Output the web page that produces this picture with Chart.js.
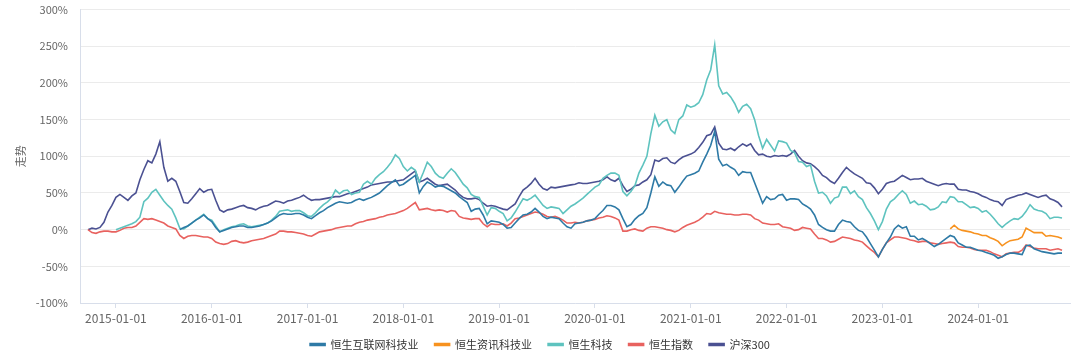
<!DOCTYPE html>
<html lang="zh-CN">
<head>
    <meta charset="UTF-8">
    <title>走势</title>
    <script src="https://cdn.jsdelivr.net/npm/chart.js"></script>
    <style>
        body {
            margin: 0;
            background: #ffffff;
        }

        #chart-container {
            width: 1080px;
            height: 360px;
        }
    </style>
</head>
<body>
    <div id="chart-container">
        <canvas id="trendChart"></canvas>
    </div>

    <script>
        // semi-monthly dates, 2014-08-16 .. 2024-12-16
        const dates = [];
        for (let y = 2014; y <= 2024; y++) {
            for (let m = 1; m <= 12; m++) {
                for (const d of ["01", "16"]) {
                    const label = y + "-" + String(m).padStart(2, "0") + "-" + d;
                    if (label >= "2014-08-16" && label <= "2024-12-16") dates.push(label);
                }
            }
        }

        const yTicks = [-100, -50, 0, 50, 100, 150, 200, 250, 300];

        // 恒生互联网科技业, from 2015-09-01
        const hsInternetStart = "2015-09-01";
        const hsInternet = [
            0, 3, 5, 9, 13, 16,
            20, 15, 11, 3, -3, -1, 1, 3, 4, 5,
            5, 3, 3, 4, 5, 7, 9, 12, 16, 20,
            22, 21, 21, 22, 22, 20, 17, 15, 19, 23,
            26, 30, 33, 36, 38, 37, 36, 37, 40, 42,
            40, 42, 44, 47, 50, 55, 60, 64, 68, 60,
            62, 66, 70, 74, 50, 59, 65, 62, 58, 60,
            59, 56, 53, 50, 45, 41, 37, 25, 28, 29,
            20, 8, 12, 11, 10, 7, 2, 3, 9, 15,
            20, 21, 24, 29, 24, 18, 15, 17, 16, 15,
            9, 4, 2, 8, 9, 10, 12, 13, 15, 21,
            26, 33, 33, 31, 27, 15, 4, 7, 14, 19,
            22, 30, 50, 72, 59, 65, 61, 60, 51, 58,
            66, 73, 75, 77, 80, 92, 103, 115, 134, 96,
            87, 89, 85, 82, 74, 79, 78, 78, 64, 50,
            36, 45, 41, 42, 47, 48, 40, 42, 42, 41,
            35, 32, 28, 20, 7, 3, 0, -2, -2, 7,
            13, 11, 10, 4, -1, -3, -10, -19, -28, -37,
            -27, -18, -10, 1, 6, 2, 4, -9, -9, -14,
            -12, -15, -19, -23, -20, -16, -12, -8, -10, -18,
            -21, -24, -24, -26, -28, -29, -31, -33, -35, -39,
            -37, -34, -32, -32, -33, -34, -22, -21, -26, -28,
            -30, -31, -32, -33, -32, -32
        ];

        // 恒生资讯科技业, from 2023-09-16
        const hsInfoTechStart = "2023-09-16";
        const hsInfoTech = [
            1, 6, 1, -1, -2, -3, -5, -6, -8, -8,
            -11, -13, -16, -22, -18, -15, -14, -13, -10, 2,
            -1, -4, -4, -4, -9, -8, -9, -10, -12
        ];

        // 恒生科技, from 2015-01-01
        const hsTechStart = "2015-01-01";
        const hsTech = [
            0, 2, 4, 6, 8, 11, 17, 38, 43, 51, 55, 47,
            39, 33, 28, 16, 2, 1, 5, 9, 13, 17,
            21, 15, 13, 5, -3, 0, 2, 4, 5, 7,
            8, 5, 4, 5, 6, 7, 9, 13, 18, 25,
            26, 27, 25, 26, 26, 23, 19, 18, 23, 29,
            34, 38, 43, 54, 49, 53, 54, 48, 50, 51,
            62, 66, 62, 70, 75, 79, 85, 92, 102, 97,
            86, 80, 85, 81, 65, 78, 92, 86, 77, 72,
            70, 77, 83, 78, 70, 62, 57, 48, 45, 44,
            32, 20, 30, 29, 25, 22, 12, 16, 24, 33,
            42, 40, 43, 47, 40, 33, 29, 31, 30, 29,
            22, 27, 32, 35, 39, 43, 48, 53, 58, 61,
            70, 74, 77, 77, 74, 52, 46, 52, 60, 77,
            88, 100, 131, 156, 141, 147, 150, 136, 131, 150,
            155, 170, 167, 169, 173, 184, 204, 218, 252, 196,
            185, 187, 181, 172, 160, 168, 171, 165, 150, 128,
            111, 123, 115, 107, 121, 120, 118, 108, 105, 93,
            92, 86, 88, 66, 50, 51, 46, 36, 43, 45,
            58, 58, 49, 53, 45, 41, 30, 22, 12, 0,
            11, 28, 38, 42, 48, 53, 48, 36, 39, 34,
            35, 32, 27, 28, 31, 38, 37, 45, 44, 38,
            38, 34, 30, 31, 29, 24, 26, 21, 15, 8,
            3, 8, 12, 15, 14, 18, 25, 34, 28, 26,
            25, 22, 15, 17, 17, 16
        ];

        // 恒生指数, from 2014-09-16
        const hsiStart = "2014-09-16";
        const hsi = [
            0, -4, -5, -3, -2, -2, -3, -3, -1,
            2, 3, 3, 5, 10, 15, 14, 15, 13, 11,
            9, 5, 3, 1, -8, -12, -9, -8, -8, -9,
            -10, -10, -12, -17, -19, -20, -19, -16, -15, -17,
            -18, -17, -15, -14, -13, -12, -10, -8, -6, -2,
            -2, -3, -3, -4, -5, -6, -8, -9, -6, -3,
            -2, -1, 0, 2, 3, 4, 5, 5, 8, 10,
            11, 13, 14, 15, 17, 18, 20, 21, 22, 24,
            26, 29, 33, 37, 27, 28, 29, 27, 26, 27,
            26, 24, 26, 25, 18, 16, 15, 14, 15, 15,
            8, 4, 8, 7, 7, 8, 5, 9, 15, 16,
            18, 20, 22, 24, 23, 21, 18, 17, 18, 16,
            13, 9, 9, 10, 9, 10, 12, 13, 14, 16,
            17, 19, 18, 16, 13, -2, -2, 0, 1, -1,
            -2, 2, 4, 4, 3, 2, 0, -1, -3, -1,
            3, 6, 8, 10, 13, 17, 22, 21, 25, 23,
            22, 21, 21, 20, 20, 21, 21, 20, 15, 13,
            9, 8, 7, 7, 8, 4, 3, 2, -1, 0,
            3, 2, 1, -6, -12, -12, -14, -17, -16, -13,
            -10, -11, -12, -14, -15, -17, -22, -27, -31, -37,
            -27, -18, -14, -10, -10, -11, -12, -14, -15, -17,
            -16, -16, -18, -19, -20, -19, -18, -17, -18, -23,
            -24, -24, -25, -27, -28, -28, -28, -30, -33, -35,
            -37, -33, -32, -31, -31, -28, -21, -23, -25, -26,
            -26, -26, -28, -27, -26, -28
        ];

        // 沪深300, from 2014-09-16
        const csi300Start = "2014-09-16";
        const csi300 = [
            0, 2, 1, 3, 10, 24, 33, 44, 48,
            44, 40, 46, 50, 68, 82, 94, 91, 103, 120,
            85, 66, 70, 66, 52, 37, 36, 42, 49, 56,
            51, 54, 55, 40, 27, 24, 27, 28, 30, 32,
            33, 30, 29, 27, 30, 32, 33, 36, 39, 38,
            36, 39, 40, 42, 44, 47, 43, 40, 41, 41,
            42, 43, 44, 45, 45, 47, 49, 50, 52, 54,
            56, 58, 61, 62, 63, 64, 65, 65, 66, 67,
            68, 72, 76, 80, 65, 67, 70, 66, 62, 60,
            61, 62, 58, 54, 48, 44, 42, 42,
            43, 41, 36, 32, 33, 32, 30, 28, 27, 31, 35, 45,
            54, 58, 63, 70, 62, 56, 54, 58, 57, 58,
            59, 60, 61, 62, 64, 63, 63, 64, 65, 66,
            68, 72, 68, 66, 70, 60, 52, 55, 60, 61,
            65, 68, 75, 95, 93, 97, 98, 92, 90, 95,
            99, 101, 103, 106, 112, 119, 128, 130, 140, 118,
            110, 109, 111, 108, 113, 117, 114, 117, 108, 102,
            103, 100, 99, 101, 100, 101, 100, 103, 108, 100,
            94, 91, 90, 86, 81, 74, 71, 66, 63, 70,
            78, 85, 80, 76, 73, 70, 64, 63, 57, 49,
            55, 63, 65, 66, 70, 74, 71, 68, 69, 69,
            70, 66, 64, 62, 60, 62, 63, 62, 62, 55,
            54, 54, 52, 51, 49, 46, 44, 41, 39, 38,
            33, 41, 43, 45, 47, 48, 50, 48, 46, 44,
            46, 47, 42, 40, 37, 31
        ];

        function alignToDates(start, values) {
            const out = new Array(dates.length).fill(null);
            const offset = dates.indexOf(start);
            values.forEach((v, k) => {
                if (offset + k < out.length) out[offset + k] = v;
            });
            return out;
        }

        const series = [
            { label: "恒生互联网科技业", color: "#2e7aa6", start: hsInternetStart, values: hsInternet },
            { label: "恒生资讯科技业", color: "#f7921f", start: hsInfoTechStart, values: hsInfoTech },
            { label: "恒生科技", color: "#5ec3bf", start: hsTechStart, values: hsTech },
            { label: "恒生指数", color: "#e8625f", start: hsiStart, values: hsi },
            { label: "沪深300", color: "#4b5192", start: csi300Start, values: csi300 }
        ];

        Chart.defaults.font.family = '"Noto Sans CJK SC", "Noto Sans", sans-serif';

        const axisColor = "#d8deea";

        new Chart(document.getElementById("trendChart"), {
            type: "line",
            data: {
                labels: dates,
                datasets: series.map(s => ({
                    label: s.label,
                    data: alignToDates(s.start, s.values),
                    borderColor: s.color,
                    backgroundColor: s.color,
                    borderWidth: 1.6,
                    pointRadius: 0,
                    tension: 0,
                    spanGaps: false
                }))
            },
            options: {
                responsive: true,
                maintainAspectRatio: false,
                animation: false,
                layout: {
                    padding: { top: 0, right: 10, left: 10, bottom: 0 }
                },
                plugins: {
                    tooltip: { enabled: false },
                    legend: {
                        position: "bottom",
                        labels: {
                            boxWidth: 15,
                            boxHeight: 2,
                            padding: 16,
                            color: "#333",
                            font: { size: 11 }
                        }
                    }
                },
                scales: {
                    x: {
                        grid: {
                            drawOnChartArea: false,
                            tickLength: 5,
                            color: axisColor
                        },
                        border: { color: axisColor },
                        ticks: {
                            autoSkip: false,
                            maxRotation: 0,
                            color: "#666",
                            font: { size: 12 },
                            padding: 3,
                            callback: function (value) {
                                const label = this.getLabelForValue(value);
                                return label.endsWith("-01-01") ? label : null;
                            }
                        },
                        afterFit: scale => { scale.height = 20; }
                    },
                    y: {
                        min: yTicks[0],
                        max: yTicks[yTicks.length - 1],
                        afterBuildTicks: scale => {
                            scale.ticks = yTicks.map(v => ({ value: v }));
                        },
                        grid: {
                            color: "#ebebeb",
                            drawTicks: true,
                            tickLength: 9,
                            tickColor: "rgba(0,0,0,0)"
                        },
                        border: { color: axisColor },
                        ticks: {
                            color: "#666",
                            font: { size: 11 },
                            padding: 3,
                            callback: v => v + "%"
                        },
                        title: {
                            display: true,
                            text: "走势",
                            color: "#666",
                            font: { size: 11 },
                            padding: { top: 4, bottom: 0 }
                        },
                        afterFit: scale => { scale.width = 70; }
                    }
                }
            }
        });
    </script>
</body>
</html>
